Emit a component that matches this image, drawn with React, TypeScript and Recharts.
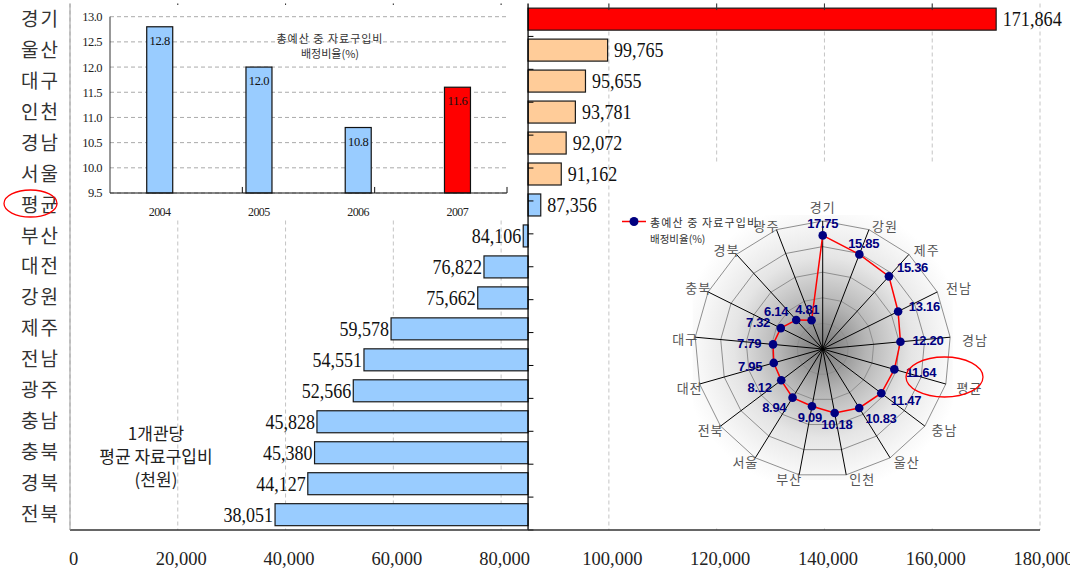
import React from 'react'
import {
  BarChart,
  Bar,
  XAxis,
  YAxis,
  CartesianGrid,
  ReferenceLine,
  ReferenceArea,
  RadarChart,
  Radar,
  PolarGrid,
  PolarAngleAxis,
  PolarRadiusAxis
} from 'recharts'

// 1개관당 평균 자료구입비 (천원)
const regions = ['경기', '울산', '대구', '인천', '경남', '서울', '평균', '부산', '대전', '강원', '제주', '전남', '광주', '충남', '충북', '경북', '전북']
const spending = [171864, 99765, 95655, 93781, 92072, 91162, 87356, 84106, 76822, 75662, 59578, 54551, 52566, 45828, 45380, 44127, 38051]
const spendingBase = 85000
const spendingTicks = [0, 20000, 40000, 60000, 80000, 100000, 120000, 140000, 160000, 180000]

// 총예산 중 자료구입비 배정비율(%), 연도별
const years = ['2004', '2005', '2006', '2007']
const ratioByYear = [12.8, 12.0, 10.8, 11.6]
const ratioTicks = [9.5, 10, 10.5, 11, 11.5, 12, 12.5, 13]

// 총예산 중 자료구입비 배정비율(%), 지역별
const radarRegions = ['경기', '강원', '제주', '전남', '경남', '평균', '충남', '울산', '인천', '부산', '서울', '전북', '대전', '대구', '충북', '경북', '광주']
const radarRatio = [17.75, 15.85, 15.36, 13.16, 12.2, 11.64, 11.47, 10.83, 10.18, 9.09, 8.94, 8.12, 7.95, 7.79, 7.32, 6.14, 4.81]

const RED = '#FF0000'
const PEACH = '#FFCC99'
const BLUE = '#99CCFF'
const NAVY = '#000080'
const KR = '"Noto Sans CJK KR", "Noto Sans", sans-serif'
const SERIF = '"Liberation Serif", "DejaVu Serif", serif'
const BOLD_SANS = '"Liberation Sans", Arial, sans-serif'

const barFill = (i: number) => (i === 0 ? RED : i < 6 ? PEACH : BLUE)
const insetFill = [BLUE, BLUE, BLUE, RED]

const withComma = (n: number) => String(n).replace(/\B(?=(\d{3})+(?!\d))/g, ',')

const mainData = regions.map((name, i) => ({
  name,
  value: spending[i],
  range: [spendingBase, spending[i]]
}))

const insetData = years.map((year, i) => ({ year, ratio: ratioByYear[i] }))

const radarData = radarRegions.map((name, i) => ({ name, ratio: radarRatio[i] }))

// bars grow out of the 85,000 line, labels sit at the free end
const SpendingBar = (props: any) => {
  const { x, y, width, height, payload, index } = props
  const left = Math.min(x, x + width)
  const w = Math.abs(width)
  const up = width >= 0
  const idx = typeof index === 'number' ? index : regions.indexOf(payload.name)
  const label = withComma(payload.value)
  return (
    <g>
      <rect x={left} y={y} width={w} height={height} fill={barFill(idx)} stroke="#1a1a1a" strokeWidth={1.2} />
      <text
        x={up ? x + width + 6.5 : x + width - 2}
        y={y + height / 2 + 7.3}
        textAnchor={up ? 'start' : 'end'}
        fontFamily={SERIF}
        fontSize={22}
        fill="#111"
        textLength={(label.length - 1) * 9.6 + 1.5}
        lengthAdjust="spacingAndGlyphs"
      >
        {label}
      </text>
    </g>
  )
}

const SpendingTick = (props: any) => {
  const { x, y, payload } = props
  return (
    <text x={x + 3.5} y={y + 27} textAnchor="middle" fontFamily={SERIF} fontSize={18.5} fill="#222">
      {withComma(payload.value)}
    </text>
  )
}

const InsetBar = (props: any) => {
  const { x, y, width, height, payload, index } = props
  const idx = typeof index === 'number' ? index : years.indexOf(payload.year)
  return (
    <g>
      <rect x={x} y={y} width={width} height={height} fill={insetFill[idx]} stroke="#111" strokeWidth={1.2} />
      <text x={x + width / 2} y={y + 18} textAnchor="middle" fontFamily={SERIF} fontSize={12.5} fill="#111" letterSpacing={-0.4}>
        {payload.ratio.toFixed(1)}
      </text>
    </g>
  )
}

const YearTick = (props: any) => {
  const { x, y, payload } = props
  return (
    <text x={x} y={y + 14.5} textAnchor="middle" fontFamily={SERIF} fontSize={12} fill="#222" letterSpacing={-0.6}>
      {payload.value}
    </text>
  )
}

// radar geometry inside its panel
const RADAR_CX = 202.7
const RADAR_CY = 187
const RADAR_R = 128
const TICK_GAP = 8

// region names sit beside the end of each spoke
const AngleTick = (props: any) => {
  const { x, y, payload } = props
  const rad = (payload.coordinate * Math.PI) / 180
  const c = Math.cos(rad)
  const s = Math.sin(rad)
  const vx = x - c * TICK_GAP
  const vy = y + s * TICK_GAP
  let tx = vx
  let ty = vy
  let anchor: 'start' | 'middle' | 'end' = 'middle'
  if (Math.abs(c) < 0.1) {
    ty = s > 0 ? vy - 14.5 : vy + 14
  } else if (c > 0) {
    anchor = 'start'
    tx = vx + 3 + 9 * Math.pow(c, 4)
    ty = s > 0.2 ? vy - 4.5 : s < -0.2 ? vy + 3.5 : vy + 2.5
  } else {
    anchor = 'end'
    tx = vx + 3
    ty = s > 0.2 ? vy - 4.5 : s < -0.2 ? vy + 3.5 : vy + 1.5
  }
  return (
    <text
      x={tx}
      y={ty}
      textAnchor={anchor}
      dominantBaseline="central"
      fontFamily={KR}
      fontSize={13}
      fill="#555"
      letterSpacing={1}
    >
      {payload.value}
    </text>
  )
}

const RatioDot = (props: any) => {
  const { cx, cy, index } = props
  const dx = cx - RADAR_CX
  const dy = cy - RADAR_CY
  const len = Math.hypot(dx, dy) || 1
  const ux = dx / len
  const uy = dy / len
  const anchor = ux > 0.4 ? 'start' : ux < -0.4 ? 'end' : 'middle'
  const v = typeof index === 'number' ? radarRatio[index] : props.payload?.value
  return (
    <g key={`dot-${index}`}>
      <circle cx={cx} cy={cy} r={4.3} fill={NAVY} />
      <text
        x={cx + ux * 12}
        y={cy + uy * 12}
        textAnchor={anchor}
        dominantBaseline="central"
        fontFamily={BOLD_SANS}
        fontWeight="bold"
        fontSize={13}
        fill={NAVY}
        letterSpacing={-0.3}
      >
        {Number(v).toFixed(2)}
      </text>
    </g>
  )
}

const bandEdges = Array.from({ length: 16 }, (_, i) => i + 1)

export default function App() {
  return (
    <div style={{ position: 'absolute', left: 0, top: 0, width: 1070, height: 573, background: '#fff', fontFamily: KR }}>
      {/* main chart: spending per library */}
      <div style={{ position: 'absolute', left: 0, top: 0 }}>
        <BarChart
          width={1070}
          height={573}
          data={mainData}
          layout="vertical"
          margin={{ top: 3.5, right: 30, bottom: 3, left: 0 }}
          barCategoryGap="15%"
        >
          <CartesianGrid horizontal={false} stroke="#c4c4c4" strokeDasharray="4 3" />
          <XAxis
            type="number"
            domain={[0, 180000]}
            ticks={spendingTicks}
            interval={0}
            height={40}
            tick={<SpendingTick />}
            tickLine={false}
            axisLine={{ stroke: '#333', strokeWidth: 1.5 }}
          />
          <YAxis
            type="category"
            dataKey="name"
            width={70}
            interval={0}
            tickLine={false}
            tickMargin={4}
            axisLine={{ stroke: '#999' }}
            tick={{ fontSize: 19, fill: '#333', fontFamily: KR, letterSpacing: 2 }}
          />
          <YAxis yAxisId="band" type="number" domain={[0, 17]} hide />
          <ReferenceArea yAxisId="band" x1={0} x2={180000} y1={0} y2={17} fill="none" stroke="#8a8a8a" />
          <Bar dataKey="range" shape={<SpendingBar />} isAnimationActive={false} />
          <ReferenceLine yAxisId="band" x={spendingBase} stroke="#000" strokeWidth={1.3} />
          {bandEdges.map((k) => (
            <ReferenceLine
              key={`edge-${k}`}
              yAxisId="band"
              segment={[{ x: spendingBase, y: k }, { x: spendingBase + 1000, y: k }]}
              stroke="#000"
            />
          ))}
          {spendingTicks.slice(1, -1).map((t) => (
            <ReferenceLine
              key={`xt-${t}`}
              yAxisId="band"
              segment={[{ x: t, y: 0 }, { x: t, y: 0.2 }]}
              stroke="#333"
            />
          ))}
        </BarChart>
      </div>

      {/* inset: yearly allocation ratio */}
      <div style={{ position: 'absolute', left: 72, top: 5, width: 455, height: 215, background: '#fff' }}>
        <BarChart
          width={455}
          height={215}
          data={insetData}
          margin={{ top: 11.7, right: 20, bottom: 0, left: 0 }}
          barCategoryGap="37%"
        >
          <CartesianGrid vertical={false} stroke="#aaa" strokeDasharray="4 3" />
          <XAxis dataKey="year" height={27} tickLine={false} axisLine={{ stroke: '#111' }} tick={<YearTick />} />
          <XAxis xAxisId="pos" type="number" domain={[0, 4]} hide />
          <YAxis
            domain={[9.5, 13]}
            ticks={ratioTicks}
            interval={0}
            width={38}
            tickLine={false}
            axisLine={{ stroke: '#333' }}
            tickFormatter={(v: number) => v.toFixed(1)}
            tick={{ fontSize: 12.5, fill: '#222', fontFamily: SERIF, letterSpacing: -0.5 }}
          />
          <ReferenceArea xAxisId="pos" x1={0} x2={4} y1={9.5} y2={13} fill="none" stroke="#888" />
          <Bar dataKey="ratio" shape={<InsetBar />} isAnimationActive={false} />
          {[1, 2, 3].map((k) => (
            <ReferenceLine key={`yr-${k}`} xAxisId="pos" segment={[{ x: k, y: 9.5 }, { x: k, y: 9.62 }]} stroke="#111" />
          ))}
        </BarChart>
      </div>

      {/* radar: allocation ratio by region */}
      <div style={{ position: 'absolute', left: 620, top: 162, width: 419, height: 366, background: '#fff' }}>
        <svg width={419} height={366} style={{ position: 'absolute', left: 0, top: 0 }}>
          <defs>
            <radialGradient id="radarGlow" cx="50%" cy="50%" r="55%">
              <stop offset="0%" stopColor="#747474" />
              <stop offset="30%" stopColor="#b4b4b4" />
              <stop offset="62%" stopColor="#e5e5e5" />
              <stop offset="88%" stopColor="#f8f8f8" />
              <stop offset="100%" stopColor="#ffffff" />
            </radialGradient>
          </defs>
          <rect x={RADAR_CX - 130} y={RADAR_CY - 134} width={260} height={265} fill="url(#radarGlow)" />
        </svg>
        <div style={{ position: 'absolute', left: 0, top: 0 }}>
          <RadarChart
            width={419}
            height={366}
            data={radarData}
            cx={RADAR_CX}
            cy={RADAR_CY}
            outerRadius={RADAR_R}
            margin={{ top: 0, right: 0, bottom: 0, left: 0 }}
          >
            <PolarGrid radialLines={false} stroke="#8f8f8f" />
            <PolarGrid polarRadius={[]} stroke="#000" />
            <PolarAngleAxis dataKey="name" tick={<AngleTick />} tickSize={TICK_GAP} tickLine={false} axisLine={false} />
            <PolarRadiusAxis domain={[0, 20]} tickCount={6} tick={false} axisLine={false} />
            <Radar
              dataKey="ratio"
              stroke={RED}
              strokeWidth={1.5}
              fill="none"
              fillOpacity={0}
              dot={RatioDot}
              isAnimationActive={false}
            />
          </RadarChart>
        </div>
        <svg width={200} height={90} style={{ position: 'absolute', left: 0, top: 0 }}>
          <line x1={2} y1={59.5} x2={26} y2={59.5} stroke={RED} strokeWidth={1.5} />
          <circle cx={14} cy={59.5} r={4.5} fill={NAVY} />
          <text x={30} y={60} dominantBaseline="central" fontFamily={KR} fontSize={11} fill="#333" letterSpacing={1.1}>
            총예산 중 자료구입비
          </text>
          <text x={30} y={76} dominantBaseline="central" fontFamily={KR} fontSize={10.5} fill="#333">
            배정비율(%)
          </text>
        </svg>
      </div>

      {/* notes and highlight rings */}
      <svg width={1070} height={573} style={{ position: 'absolute', left: 0, top: 0, pointerEvents: 'none' }}>
        <text x={330} y={38} textAnchor="middle" dominantBaseline="central" fontFamily={KR} fontSize={11} fill="#333" letterSpacing={1}>
          총예산 중 자료구입비
        </text>
        <text x={330} y={53} textAnchor="middle" dominantBaseline="central" fontFamily={KR} fontSize={11} fill="#333">
          배정비율(%)
        </text>
        <text x={156} y={432} textAnchor="middle" dominantBaseline="central" fontFamily={KR} fontSize={17} fill="#222">
          1개관당
        </text>
        <text x={156} y={455} textAnchor="middle" dominantBaseline="central" fontFamily={KR} fontSize={17} fill="#222">
          평균 자료구입비
        </text>
        <text x={156} y={478} textAnchor="middle" dominantBaseline="central" fontFamily={KR} fontSize={17} fill="#222">
          (천원)
        </text>
        <ellipse cx={30.5} cy={203.5} rx={26.5} ry={13.5} fill="none" stroke={RED} strokeWidth={1.3} />
        <ellipse cx={944.5} cy={377} rx={38.5} ry={20} fill="none" stroke={RED} strokeWidth={1.3} />
      </svg>
    </div>
  )
}
